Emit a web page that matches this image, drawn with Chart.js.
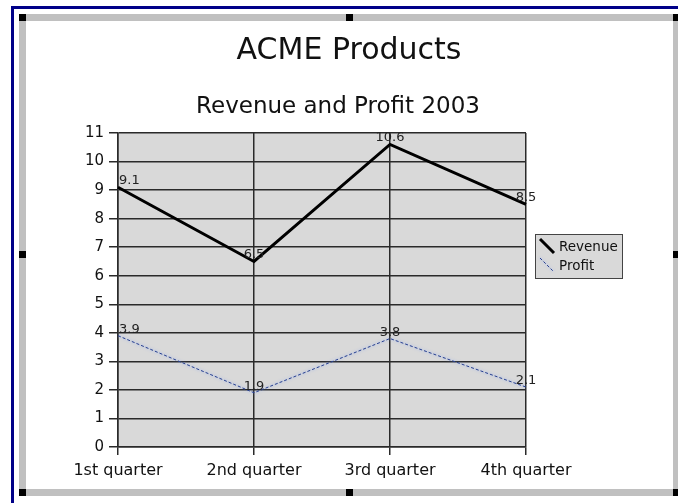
<!DOCTYPE html>
<html lang="en">
<head>
  <meta charset="UTF-8" />
  <title>ACME Products</title>
  <script src="https://cdn.jsdelivr.net/npm/chart.js@4.4.1/dist/chart.umd.min.js"></script>
  <style>
    body { margin: 0; background: #fff; width: 678px; height: 503px; overflow: hidden; position: relative; }
    .outer { position: absolute; left: 11px; top: 6px; width: 700px; height: 520px; border: 3px solid #000088; box-sizing: border-box; }
    .frame { position: absolute; left: 19px; top: 14px; width: 661px; height: 482px; border: 7px solid #c0c0c0; box-sizing: border-box; }
    .handle { position: absolute; width: 7px; height: 7px; background: #000; }
    canvas { position: absolute; left: 0; top: 0; }
  </style>
</head>
<body>
  <div class="outer"></div>
  <div class="frame"></div>
  <div class="handle" style="left:19px;top:14px"></div>
  <div class="handle" style="left:346px;top:14px"></div>
  <div class="handle" style="left:673px;top:14px"></div>
  <div class="handle" style="left:19px;top:251px"></div>
  <div class="handle" style="left:673px;top:251px"></div>
  <div class="handle" style="left:19px;top:489px"></div>
  <div class="handle" style="left:346px;top:489px"></div>
  <div class="handle" style="left:673px;top:489px"></div>
  <canvas id="myChart" width="678" height="503"></canvas>

  <script>
    // chart data
    const quarters = ["1st quarter", "2nd quarter", "3rd quarter", "4th quarter"];
    const revenue = [9.1, 6.5, 10.6, 8.5];
    const profit = [3.9, 1.9, 3.8, 2.1];
    const yMin = 0;
    const yMax = 11;
    const titleText = "ACME Products";
    const subtitleText = "Revenue and Profit 2003";

    const FONT = "'DejaVu Sans', sans-serif";

    // gray plot background
    const plotBg = {
      id: "plotBg",
      beforeDraw(chart) {
        const a = chart.chartArea;
        const ctx = chart.ctx;
        ctx.save();
        ctx.fillStyle = "#d9d9d9";
        ctx.fillRect(a.left, a.top, a.right - a.left, a.bottom - a.top);
        ctx.restore();
      }
    };

    // the two centred headings
    const headings = {
      id: "headings",
      afterDraw(chart) {
        const ctx = chart.ctx;
        ctx.save();
        ctx.fillStyle = "#111";
        ctx.textAlign = "center";
        ctx.textBaseline = "alphabetic";
        ctx.font = "30px " + FONT;
        ctx.fillText(titleText, 349, 59);
        ctx.font = "23px " + FONT;
        ctx.fillText(subtitleText, 338, 113);
        ctx.restore();
      }
    };

    // light blue glow under the profit line
    const glow = {
      id: "glow",
      beforeDatasetDraw(chart, args) {
        if (args.index !== 1) return;
        chart.ctx.save();
        chart.ctx.shadowColor = "rgba(110,150,255,0.8)";
        chart.ctx.shadowBlur = 3;
      },
      afterDatasetDraw(chart, args) {
        if (args.index !== 1) return;
        chart.ctx.restore();
      }
    };

    // value labels over the points
    const valueLabels = {
      id: "valueLabels",
      afterDatasetsDraw(chart) {
        const ctx = chart.ctx;
        ctx.save();
        ctx.font = "13px " + FONT;
        ctx.fillStyle = "#222";
        ctx.textBaseline = "alphabetic";
        chart.data.datasets.forEach((ds, i) => {
          chart.getDatasetMeta(i).data.forEach((pt, j) => {
            ctx.textAlign = j === 0 ? "left" : "center";
            ctx.fillText(String(ds.data[j]), j === 0 ? pt.x + 1 : pt.x, pt.y - 3);
          });
        });
        ctx.restore();
      }
    };

    // boxed legend right of the plot
    const boxLegend = {
      id: "boxLegend",
      afterDraw(chart) {
        const ctx = chart.ctx;
        const x = 535, y = 234, w = 88, h = 45;
        ctx.save();
        ctx.fillStyle = "#d9d9d9";
        ctx.fillRect(x, y, w, h);
        ctx.strokeStyle = "#444";
        ctx.lineWidth = 1;
        ctx.strokeRect(x + 0.5, y + 0.5, w - 1, h - 1);
        ctx.font = "13.5px " + FONT;
        ctx.textAlign = "left";
        ctx.textBaseline = "alphabetic";
        chart.data.datasets.forEach((ds, i) => {
          const top = y + 4 + i * 19;
          ctx.save();
          ctx.strokeStyle = ds.borderColor;
          ctx.lineWidth = ds.borderWidth;
          ctx.setLineDash(ds.borderDash || []);
          if (i === 1) {
            ctx.shadowColor = "rgba(110,150,255,0.8)";
            ctx.shadowBlur = 3;
          }
          ctx.beginPath();
          ctx.moveTo(x + 5, top + 1);
          ctx.lineTo(x + 19, top + 15);
          ctx.stroke();
          ctx.restore();
          ctx.fillStyle = "#111";
          ctx.fillText(ds.label, x + 24, top + 13);
        });
        ctx.restore();
      }
    };

    new Chart(document.getElementById("myChart"), {
      type: "line",
      data: {
        labels: quarters,
        datasets: [
          {
            label: "Revenue",
            data: revenue,
            borderColor: "#000",
            borderWidth: 3,
            pointRadius: 0,
            tension: 0
          },
          {
            label: "Profit",
            data: profit,
            borderColor: "#28408f",
            borderWidth: 1,
            borderDash: [3, 2],
            pointRadius: 0,
            tension: 0
          }
        ]
      },
      options: {
        responsive: false,
        animation: false,
        layout: { padding: { left: 38, right: 152, top: 133, bottom: 20 } },
        plugins: {
          legend: { display: false },
          tooltip: { enabled: false }
        },
        scales: {
          x: {
            offset: false,
            grid: { color: "#2a2a2a", lineWidth: 1.5, tickLength: 8 },
            border: { color: "#2a2a2a", width: 1.5 },
            ticks: {
              font: { family: FONT, size: 16 },
              color: "#111",
              padding: 6,
              maxRotation: 0,
              autoSkip: false
            },
            afterFit: s => { s.height = 36; }
          },
          y: {
            min: yMin,
            max: yMax,
            grid: { color: "#2a2a2a", lineWidth: 1.5, tickLength: 9 },
            border: { color: "#2a2a2a", width: 1.5 },
            ticks: {
              stepSize: 1,
              font: { family: FONT, size: 15 },
              color: "#111",
              padding: 5
            },
            afterFit: s => { s.width = 80; }
          }
        }
      },
      plugins: [plotBg, glow, valueLabels, headings, boxLegend]
    });
  </script>
</body>
</html>
